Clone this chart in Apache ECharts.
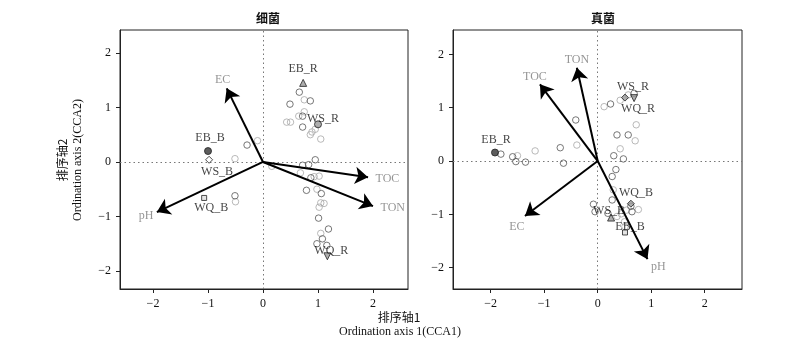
<!DOCTYPE html>
<html>
<head>
<meta charset="utf-8">
<script src="https://cdn.jsdelivr.net/npm/echarts@6/dist/echarts.min.js"></script>
<style>html,body{margin:0;padding:0;background:#fff}#c{width:800px;height:348px}</style>
</head>
<body>
<div id="c"></div>
<script>
// ---------- DATA ----------
const panelTitles = ['细菌', '真菌'];
const tickValues = [-2, -1, 0, 1, 2];
const envNames = ['EC', 'pH', 'TOC', 'TON'];
const centNames = ['EB_R', 'WS_R', 'WQ_R', 'EB_B', 'WS_B', 'WQ_B'];

// Bacteria (left panel)
const bEnvX = [-0.66, -1.93, 1.91, 2.0];
const bEnvY = [1.35, -0.92, -0.28, -0.81];
const bCentX = [0.73, 1.0, 1.17, -1.0, -0.98, -1.07];
const bCentY = [1.45, 0.69, -1.73, 0.2, 0.04, -0.66];
const bDarkX = [0.66, 0.49, 0.86, 0.72, 0.72, -0.29, 0.95, 0.72, 0.83, 0.87, 0.79, 1.06, 1.01, 1.19, 1.08, 0.98, 1.16, -0.51];
const bDarkY = [1.28, 1.06, 1.12, 0.84, 0.64, 0.31, 0.04, -0.06, -0.05, -0.29, -0.52, -0.58, -1.03, -1.23, -1.41, -1.5, -1.53, -0.62];
const bLightX = [0.75, 0.75, 0.43, 0.50, 0.89, 0.86, 1.05, -0.1, -0.51, 0.16, 0.68, 0.93, 1.02, 0.98, 1.05, 1.11, 1.02, 1.05, -0.5, 0.95, 0.65];
const bLightY = [1.14, 0.92, 0.73, 0.73, 0.55, 0.50, 0.42, 0.39, 0.06, -0.08, -0.2, -0.27, -0.26, -0.5, -0.75, -0.76, -0.83, -1.31, -0.73, 0.6, 0.84];

// Fungi (right panel)
const fEnvX = [-1.36, 0.93, -1.08, -0.39];
const fEnvY = [-1.03, -1.84, 1.44, 1.75];
const fCentX = [-1.92, 0.51, 0.68, 0.51, 0.25, 0.62];
const fCentY = [0.16, 1.19, 1.18, -1.34, -1.06, -0.8];
const fDarkX = [0.68, 0.24, 0.36, 0.57, 0.30, 0.48, -0.41, -0.7, -1.81, -1.59, -1.53, -1.35, -0.64, 0.34, 0.27, 0.27, -0.08, -0.05, 0.64, 0.19, 0.62];
const fDarkY = [1.27, 1.07, 0.49, 0.49, 0.1, 0.04, 0.77, 0.25, 0.13, 0.08, -0.01, -0.02, -0.04, -0.16, -0.29, -0.73, -0.81, -0.95, -0.95, -0.98, -0.85];
const fLightX = [0.57, 0.42, 0.12, 0.72, 0.70, 0.42, -0.39, -1.17, -1.5, 0.29, 0.76, 0.54, 0.44, 0.5, 0.51, 0.36];
const fLightY = [1.24, 1.14, 1.02, 0.68, 0.38, 0.23, 0.3, 0.19, 0.1, -0.54, -0.91, -0.92, -0.99, -1.14, -1.23, -1.04];

// ---------- STYLE ----------
const FONT = '"Liberation Serif", "DejaVu Serif", "Noto Sans CJK SC", serif';
const CJK = '"Noto Sans CJK SC", "Liberation Serif", serif';
const envLabelPos = [
  [{p: 'top', o: [-4, 3]}, {p: 'left', o: [2, 4]}, {p: 'right', o: [2, 2]}, {p: 'right', o: [2, 2]}],
  [{p: 'bottom', o: [-8, -1]}, {p: 'right', o: [-2, 8]}, {p: 'top', o: [-5, 4]}, {p: 'top', o: [0, 4]}]
];
const centStyle = [
  [
    {s: 'triangle', r: 0, fill: '#999', p: 'top', o: [0, -1]},
    {s: 'circle', r: 0, fill: '#999', p: 'top', o: [5, 8]},
    {s: 'triangle', r: 180, fill: '#999', p: 'top', o: [4, 8]},
    {s: 'circle', r: 0, fill: '#333', p: 'top', o: [2, 0]},
    {s: 'diamond', r: 0, fill: '#fff', p: 'bottom', o: [8, -1]},
    {s: 'rect', r: 0, fill: '#ddd', p: 'bottom', o: [7, -2]}
  ],
  [
    {s: 'circle', r: 0, fill: '#333', p: 'top', o: [1, 0]},
    {s: 'diamond', r: 0, fill: '#999', p: 'top', o: [8, 2]},
    {s: 'triangle', r: 180, fill: '#999', p: 'bottom', o: [4, -2]},
    {s: 'rect', r: 0, fill: '#ddd', p: 'top', o: [5, 6]},
    {s: 'triangle', r: 0, fill: '#999', p: 'top', o: [-2, 6]},
    {s: 'diamond', r: 0, fill: '#999', p: 'top', o: [5, 2]}
  ]
];
const zip = (xs, ys) => xs.map((x, i) => [x, ys[i]]);
const fmt = v => (v < 0 ? '\u2212' + Math.abs(v) : String(v));

const panels = [
  {envX: bEnvX, envY: bEnvY, cX: bCentX, cY: bCentY, dX: bDarkX, dY: bDarkY, lX: bLightX, lY: bLightY},
  {envX: fEnvX, envY: fEnvY, cX: fCentX, cY: fCentY, dX: fDarkX, dY: fDarkY, lX: fLightX, lY: fLightY}
];

const grids = [
  {left: 120, top: 30, width: 288, height: 259},
  {left: 453, top: 30, width: 289, height: 259}
];
const xRanges = [[-2.6, 2.636], [-2.705, 2.697]];
const yRanges = [[-2.33, 2.42], [-2.4, 2.458]];

const xAxes = [], yAxes = [], series = [];
grids.forEach((g, i) => {
  g.show = true; g.borderColor = '#222'; g.borderWidth = 1; g.backgroundColor = 'transparent';
  const axisCommon = {
    type: 'value', gridIndex: i,
    axisLine: {show: true, onZero: false, lineStyle: {color: '#222', width: 1}},
    axisTick: {show: true, length: 4, customValues: tickValues, lineStyle: {color: '#222'}},
    axisLabel: {show: true, customValues: tickValues, formatter: fmt, color: '#111', fontFamily: FONT, fontSize: 12},
    splitLine: {show: false}
  };
  xAxes.push(Object.assign({}, axisCommon, {min: xRanges[i][0], max: xRanges[i][1],
    axisLabel: Object.assign({}, axisCommon.axisLabel, {margin: 9})}));
  yAxes.push(Object.assign({}, axisCommon, {min: yRanges[i][0], max: yRanges[i][1],
    axisLabel: Object.assign({}, axisCommon.axisLabel, {margin: 9})}));

  const P = panels[i];
  // zero reference lines
  series.push({
    type: 'scatter', xAxisIndex: i, yAxisIndex: i, data: [], silent: true,
    markLine: {silent: true, symbol: 'none', label: {show: false},
      lineStyle: {type: [1.5, 3], color: '#777', width: 1},
      data: [{xAxis: 0}, {yAxis: 0}]}
  });
  // samples
  series.push({type: 'scatter', xAxisIndex: i, yAxisIndex: i, data: zip(P.lX, P.lY), symbol: 'circle', symbolSize: 6.5,
    itemStyle: {color: 'rgba(0,0,0,0)', borderColor: '#a8a8a8', borderWidth: 1}, z: 2});
  series.push({type: 'scatter', xAxisIndex: i, yAxisIndex: i, data: zip(P.dX, P.dY), symbol: 'circle', symbolSize: 6.5,
    itemStyle: {color: 'rgba(0,0,0,0)', borderColor: '#555', borderWidth: 1}, z: 3});
  // arrows
  series.push({
    type: 'lines', coordinateSystem: 'cartesian2d', xAxisIndex: i, yAxisIndex: i, z: 5,
    symbol: ['none', 'arrow'], symbolSize: 13,
    lineStyle: {color: '#000', width: 2, opacity: 1},
    data: P.envX.map((x, k) => ({coords: [[0, 0], [x, P.envY[k]]]}))
  });
  // env labels
  series.push({
    type: 'scatter', xAxisIndex: i, yAxisIndex: i, symbolSize: 1, itemStyle: {color: 'rgba(0,0,0,0)'}, z: 6,
    data: P.envX.map((x, k) => ({name: envNames[k], value: [x, P.envY[k]],
      label: {show: true, formatter: '{b}', position: envLabelPos[i][k].p, offset: envLabelPos[i][k].o,
        color: '#7a7a7a', fontFamily: FONT, fontSize: 12}}))
  });
  // centroids
  series.push({
    type: 'scatter', xAxisIndex: i, yAxisIndex: i, z: 7,
    data: P.cX.map((x, k) => {
      const st = centStyle[i][k];
      return {name: centNames[k], value: [x, P.cY[k]], symbol: st.s, symbolRotate: st.r,
        symbolSize: st.s === 'rect' ? 5 : 7,
        itemStyle: {color: st.fill, borderColor: '#222', borderWidth: 1},
        label: {show: true, formatter: '{b}', position: st.p, offset: st.o, color: '#111', fontFamily: FONT, fontSize: 12, distance: 3}};
    })
  });
});

const chart = echarts.init(document.getElementById('c'), null, {renderer: 'canvas'});
chart.setOption({
  animation: false,
  backgroundColor: '#fff',
  title: [
    {text: panelTitles[0], left: 263, top: 7, textAlign: 'center', textStyle: {fontFamily: CJK, fontSize: 12, fontWeight: 'bold', color: '#111'}},
    {text: panelTitles[1], left: 598, top: 7, textAlign: 'center', textStyle: {fontFamily: CJK, fontSize: 12, fontWeight: 'bold', color: '#111'}}
  ],
  grid: grids,
  xAxis: xAxes,
  yAxis: yAxes,
  series: series,
  graphic: [
    {type: 'text', x: 62, y: 160, rotation: Math.PI / 2, style: {text: '排序轴2', font: '12px ' + CJK, fill: '#111', textAlign: 'center', textVerticalAlign: 'middle'}},
    {type: 'text', x: 78, y: 160, rotation: Math.PI / 2, style: {text: 'Ordination axis 2(CCA2)', font: '12px ' + FONT, fill: '#111', textAlign: 'center', textVerticalAlign: 'middle'}},
    {type: 'text', x: 399, y: 317, style: {text: '排序轴1', font: '12px ' + CJK, fill: '#111', textAlign: 'center', textVerticalAlign: 'middle'}},
    {type: 'text', x: 400, y: 332, style: {text: 'Ordination axis 1(CCA1)', font: '12px ' + FONT, fill: '#111', textAlign: 'center', textVerticalAlign: 'middle'}}
  ]
});
</script>
</body>
</html>
